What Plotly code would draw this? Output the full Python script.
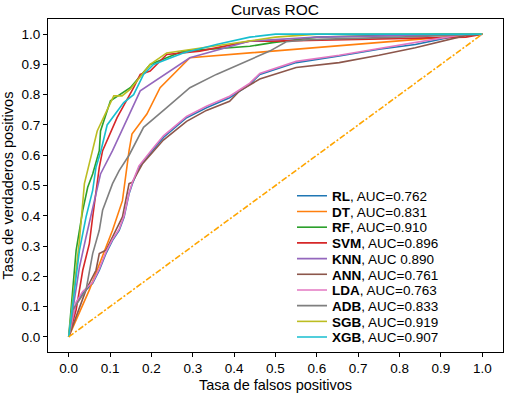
import plotly.graph_objects as go

models = ["RL", "DT", "RF", "SVM", "KNN", "ANN", "LDA", "ADB", "SGB", "XGB"]
auc_text = ["AUC=0.762", "AUC=0.831", "AUC=0.910", "AUC=0.896", "AUC 0.890",
            "AUC=0.761", "AUC=0.763", "AUC=0.833", "AUC=0.919", "AUC=0.907"]
colors = ["#1f77b4", "#ff7f0e", "#2ca02c", "#d62728", "#9467bd",
          "#8c564b", "#e377c2", "#7f7f7f", "#bcbd22", "#17becf"]

fpr_RL = [0, 0.018, 0.034, 0.058, 0.074, 0.09, 0.106, 0.122, 0.134, 0.146, 0.154, 0.17, 0.202, 0.229, 0.285, 0.333, 0.389, 0.438, 0.462, 0.55, 0.654, 0.75, 0.838, 0.918, 0.958, 1.0]
tpr_RL = [0, 0.111, 0.144, 0.177, 0.22, 0.275, 0.319, 0.352, 0.396, 0.473, 0.506, 0.56, 0.615, 0.659, 0.724, 0.757, 0.79, 0.834, 0.867, 0.906, 0.928, 0.95, 0.966, 0.988, 1.0, 1.0]

fpr_DT = [0, 0.05, 0.106, 0.13, 0.146, 0.153, 0.189, 0.221, 0.293, 0.438, 0.934, 1.0]
tpr_DT = [0, 0.155, 0.352, 0.45, 0.615, 0.67, 0.736, 0.823, 0.922, 0.938, 0.993, 1.0]

fpr_RF = [0, 0.018, 0.034, 0.046, 0.058, 0.074, 0.077, 0.101, 0.149, 0.197, 0.277, 0.438, 0.493, 0.6, 0.9, 1.0]
tpr_RF = [0, 0.286, 0.418, 0.494, 0.538, 0.615, 0.68, 0.78, 0.823, 0.90, 0.944, 0.96, 0.972, 0.99, 1.0, 1.0]

fpr_SVM = [0, 0.018, 0.034, 0.05, 0.058, 0.066, 0.074, 0.082, 0.117, 0.157, 0.173, 0.197, 0.237, 0.317, 0.438, 0.493, 0.65, 0.96, 1.0]
tpr_SVM = [0, 0.089, 0.22, 0.308, 0.396, 0.473, 0.56, 0.615, 0.724, 0.823, 0.867, 0.878, 0.933, 0.944, 0.977, 0.977, 0.982, 0.99, 1.0]

fpr_KNN = [0, 0.026, 0.042, 0.066, 0.077, 0.106, 0.173, 0.293, 0.438, 0.6, 1.0]
tpr_KNN = [0, 0.23, 0.33, 0.473, 0.538, 0.615, 0.8125, 0.922, 0.977, 0.99, 1.0]

fpr_ANN = [0, 0.042, 0.066, 0.074, 0.09, 0.106, 0.13, 0.146, 0.154, 0.178, 0.229, 0.285, 0.333, 0.389, 0.413, 0.462, 0.55, 0.654, 0.75, 0.838, 0.918, 0.958, 1.0]
tpr_ANN = [0, 0.155, 0.22, 0.275, 0.286, 0.33, 0.396, 0.506, 0.511, 0.571, 0.65, 0.712, 0.748, 0.778, 0.812, 0.852, 0.89, 0.906, 0.93, 0.955, 0.98, 0.995, 1.0]

fpr_LDA = [0, 0.018, 0.034, 0.058, 0.074, 0.09, 0.106, 0.122, 0.134, 0.146, 0.154, 0.17, 0.202, 0.229, 0.285, 0.333, 0.389, 0.438, 0.462, 0.55, 0.654, 0.75, 0.838, 0.918, 0.958, 1.0]
tpr_LDA = [0, 0.115, 0.15, 0.18, 0.225, 0.28, 0.322, 0.356, 0.40, 0.476, 0.51, 0.565, 0.62, 0.664, 0.728, 0.762, 0.795, 0.838, 0.87, 0.91, 0.93, 0.952, 0.97, 0.99, 1.0, 1.0]

fpr_ADB = [0, 0.01, 0.042, 0.058, 0.074, 0.082, 0.106, 0.122, 0.146, 0.181, 0.237, 0.293, 0.357, 0.413, 0.486, 0.526, 0.582, 0.8, 1.0]
tpr_ADB = [0, 0.089, 0.155, 0.275, 0.352, 0.418, 0.506, 0.549, 0.6, 0.692, 0.757, 0.823, 0.867, 0.90, 0.944, 0.975, 0.982, 0.99, 1.0]

fpr_SGB = [0, 0.026, 0.038, 0.046, 0.058, 0.069, 0.109, 0.129, 0.149, 0.197, 0.237, 0.4, 0.5, 0.6, 1.0]
tpr_SGB = [0, 0.319, 0.506, 0.549, 0.615, 0.68, 0.796, 0.796, 0.818, 0.90, 0.938, 0.97, 0.99, 1.0, 1.0]

fpr_XGB = [0, 0.026, 0.042, 0.058, 0.066, 0.078, 0.093, 0.133, 0.157, 0.181, 0.205, 0.277, 0.357, 0.438, 0.5, 1.0]
tpr_XGB = [0, 0.286, 0.396, 0.484, 0.56, 0.615, 0.70, 0.774, 0.80, 0.867, 0.90, 0.938, 0.966, 0.99, 1.0, 1.0]

curves = [(fpr_RL, tpr_RL), (fpr_DT, tpr_DT), (fpr_RF, tpr_RF), (fpr_SVM, tpr_SVM),
          (fpr_KNN, tpr_KNN), (fpr_ANN, tpr_ANN), (fpr_LDA, tpr_LDA), (fpr_ADB, tpr_ADB),
          (fpr_SGB, tpr_SGB), (fpr_XGB, tpr_XGB)]

diag = [0, 1]
ticks = [0.0, 0.1, 0.2, 0.3, 0.4, 0.5, 0.6, 0.7, 0.8, 0.9, 1.0]

FONT = "Liberation Sans, Arial, sans-serif"

fig = go.Figure()
for i, (m, a, c, (fx, ty)) in enumerate(zip(models, auc_text, colors, curves)):
    lg = "legend" if i == 0 else f"legend{i+1}"
    fig.add_trace(go.Scatter(x=fx, y=ty, mode="lines", line=dict(color=c, width=1.6),
                             name=f"<b>{m}</b>, {a}", legend=lg))

fig.add_trace(go.Scatter(x=diag, y=diag, mode="lines", showlegend=False,
                         line=dict(color="orange", width=1.6, dash="6px,2px,2px,2px")))

W, H = 513, 397
L, R, T, B = 48, 10, 19, 45
PW, PH = W - L - R, H - T - B

layout_legends = {}
top_px = 196
step_px = 15.7
for i in range(len(models)):
    key = "legend" if i == 0 else f"legend{i+1}"
    py = top_px + i * step_px
    layout_legends[key] = dict(x=(292 - L) / PW, y=(H - B - py) / PH, xanchor="left", yanchor="middle",
                               bgcolor="rgba(0,0,0,0)", borderwidth=0,
                               font=dict(family=FONT, size=13.5, color="black"))

fig.update_layout(
    width=W, height=H,
    margin=dict(l=L, r=R, t=T, b=B, autoexpand=False),
    plot_bgcolor="white", paper_bgcolor="white",
    font=dict(family=FONT, size=13.5, color="black"),
    title=dict(text="Curvas ROC", x=275 / W, xanchor="center", y=1 - 10 / H, yanchor="middle",
               font=dict(family=FONT, size=15.5, color="black")),
    xaxis=dict(range=[-0.05, 1.05], tickvals=ticks, tickformat=".1f", showgrid=False, zeroline=False,
               showline=True, linecolor="black", linewidth=1.2, mirror=True, automargin=False,
               ticks="outside", ticklen=4, tickwidth=1, tickcolor="black",
               title=dict(text="Tasa de falsos positivos", standoff=4, font=dict(size=14.5))),
    yaxis=dict(range=[-0.05, 1.05], tickvals=ticks, tickformat=".1f", showgrid=False, zeroline=False,
               showline=True, linecolor="black", linewidth=1.2, mirror=True, automargin=False,
               ticks="outside", ticklen=4, tickwidth=1, tickcolor="black",
               title=dict(text="Tasa de verdaderos positivos", standoff=6, font=dict(size=14.5))),
    **layout_legends,
)

fig.write_html("out.html", config={"displayModeBar": False},
               post_script="document.body.style.margin='0px';")
